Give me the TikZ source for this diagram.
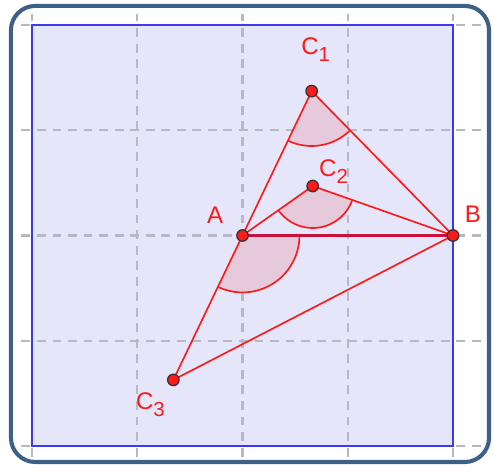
\documentclass[tikz,border=0pt]{standalone}
\usepackage{fontspec}
\setmainfont{Liberation Sans}
\usetikzlibrary{angles}
\definecolor{ggred}{HTML}{FF1A1A}
\definecolor{ggcrimson}{HTML}{C8103C}
\definecolor{wedgepink}{HTML}{E6CADC}
\definecolor{gridgrey}{HTML}{B8B8C4}
\definecolor{sheet}{HTML}{E6E6FA}
\definecolor{sheetedge}{HTML}{3A3AF5}
\definecolor{frameblue}{HTML}{3D5F88}
\newcommand{\sub}[1]{\raisebox{-0.55ex}{\fontsize{11}{12}\selectfont #1}}

\begin{document}
\begin{tikzpicture}[
  x=2cm, y=2cm,
  gridline/.style={draw=gridgrey, line width=1.1pt, dash pattern=on 4.8pt off 3.6pt},
  side/.style={draw=ggred, line width=0.9pt},
  base/.style={draw=ggcrimson, line width=1.8pt},
  wedge/.style={draw=ggred, line width=0.9pt, fill=wedgepink},
  dot/.style={fill=ggred, draw=black!80, line width=0.7pt},
  tag/.style={font=\fontsize{13}{15}\selectfont, text=ggred, inner sep=0pt},
]
\useasboundingbox (-0.304,-0.2185) rectangle (4.380,4.2375);

% ---------------- frame and sheet ----------------------------------
\draw[frameblue, line width=2.2pt, rounded corners=0.46cm]
  (-0.2,-0.152) rectangle (4.342,4.181);
\fill[sheet] (0,0) rectangle (4,4);
\foreach \i in {0,...,4} {
  \draw[gridline] (\i,-0.1) -- (\i,4.1);
  \draw[gridline] (-0.1,\i) -- (4.3,\i);
}
\draw[sheetedge, line width=1.1pt] (0,0) rectangle (4,4);

% ---------------- points -------------------------------------------
\coordinate (A) at (2,2);
\coordinate (B) at (4,2);
\coordinate (C1) at (2.657,3.372);
\coordinate (C2) at (2.667,2.470);
\coordinate (C3) at (1.343,0.628);

% ---------------- angles -------------------------------------------
\pic[wedge, angle radius=29.7pt] {angle=A--C1--B};
\pic[wedge, angle radius=22.7pt] {angle=A--C2--B};
\pic[wedge, angle radius=30.8pt] {angle=C3--A--B};

% ---------------- sides --------------------------------------------
\draw[side] (C1) -- (C3);
\draw[side] (C1) -- (B);
\draw[side] (C2) -- (A);
\draw[side] (C2) -- (B);
\draw[side] (C3) -- (B);
\draw[base] (A) -- (B);

\foreach \p in {A,B,C1,C2,C3}
  \draw[dot] (\p) circle (3.1pt);

% ---------------- labels -------------------------------------------
\node[tag] (lA) at (1.739,2.195) {A};
\node[tag] (lB) at (4.19,2.204) {B};
\node[tag] (lC1) at (2.695,3.77) {C\sub{1}};
\node[tag] (lC2) at (2.865,2.61) {C\sub{2}};
\node[tag] (lC3) at (1.125,0.395) {C\sub{3}};

\end{tikzpicture}
\end{document}
